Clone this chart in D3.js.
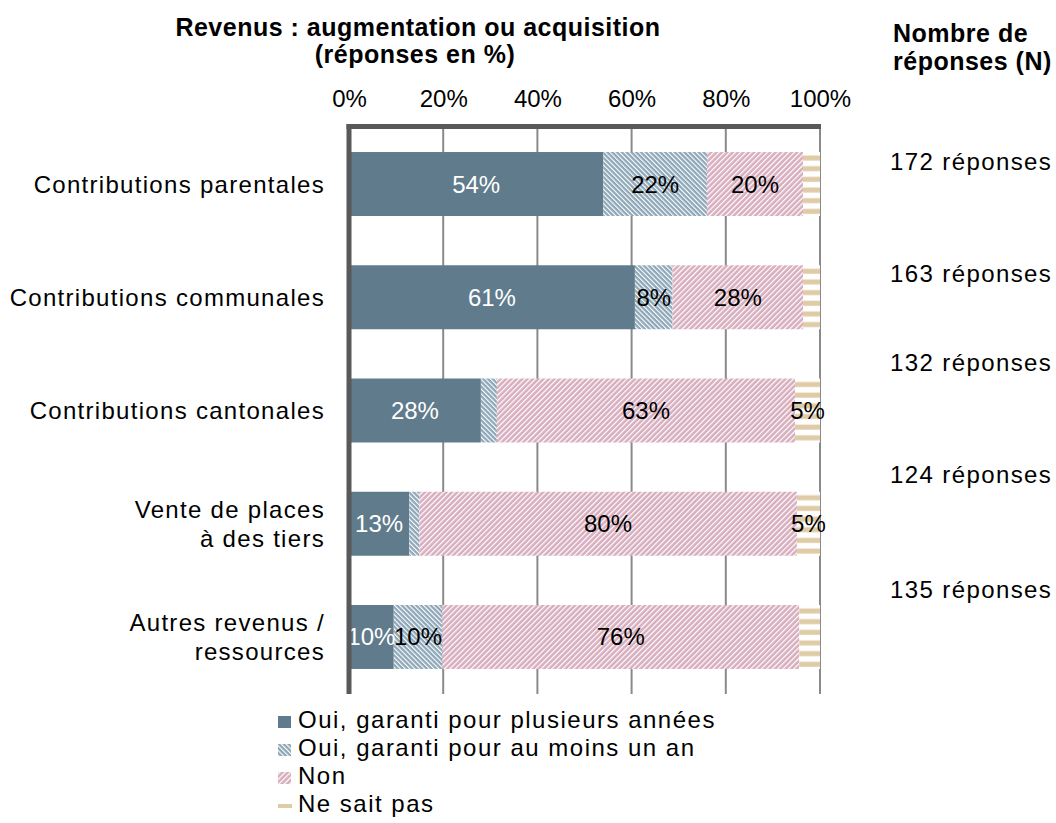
<!DOCTYPE html>
<html>
<head>
<meta charset="utf-8">
<script src="https://cdn.jsdelivr.net/npm/d3@7"></script>
<style>
  body { margin: 0; background: #fff; }
  svg { font-family: "Liberation Sans", Arial, sans-serif; }
</style>
</head>
<body>
<div id="chart"></div>
<script>
//Data
const categories = ["Contributions parentales", "Contributions communales", "Contributions cantonales", "Vente de places à des tiers", "Autres revenus / ressources"];
const categoryLines = [["Contributions parentales"], ["Contributions communales"], ["Contributions cantonales"], ["Vente de places", "à des tiers"], ["Autres revenus /", "ressources"]];
const seriesNames = ["Oui, garanti pour plusieurs années", "Oui, garanti pour au moins un an", "Non", "Ne sait pas"];
const ouiPlusieurs = [54.0, 60.7, 28.0, 12.8, 9.5];
const ouiUnAn = [22.0, 8.0, 3.4, 2.1, 10.3];
const non = [20.4, 27.7, 63.3, 80.2, 75.8];
const neSaitPas = [3.6, 3.6, 5.3, 4.9, 4.4];
const nReponses = [172, 163, 132, 124, 135];
const xTicks = [0, 20, 40, 60, 80, 100];

//Layout
const width = 1056, height = 823;
const nLabelShift = [-14, -15, -40, -41, -39]; // the N labels sit above the bars, not centred
const fontSize = 24;

const svg = d3.select("#chart").append("svg")
    .attr("width", width)
    .attr("height", height);

const defs = svg.append("defs");

//hatch pattern helper
function hatch(id, bg, size, line, angle) {
    const p = defs.append("pattern")
        .attr("id", id)
        .attr("patternUnits", "userSpaceOnUse")
        .attr("width", size)
        .attr("height", size)
        .attr("patternTransform", `rotate(${angle})`);
    p.append("rect").attr("width", size).attr("height", size).attr("fill", bg);
    p.append("rect").attr("width", line).attr("height", size).attr("fill", "#fff");
}
hatch("hatchBlue", "#8ea7b8", 3.4, 1.1, -45);
hatch("hatchPink", "#d8aebf", 3.8, 1.2, 45);

//horizontal stripes, tiles start at the top of every bar
const stripes = defs.append("pattern")
    .attr("id", "stripesTan")
    .attr("patternUnits", "objectBoundingBox")
    .attr("width", 1)
    .attr("height", 1 / 6);
stripes.append("rect").attr("width", 200).attr("height", 12).attr("fill", "#fff");
stripes.append("rect").attr("y", 3.5).attr("width", 200).attr("height", 5).attr("fill", "#dfcba5");

const fills = ["#5f7b8c", "url(#hatchBlue)", "url(#hatchPink)", "url(#stripesTan)"];
const labelColours = ["#fff", "#000", "#000", "#000"];

const x = d3.scaleLinear().domain([0, 100]).range([349, 820]);
const y = d3.scaleBand().domain(categories).range([127.4, 693.6])
    .paddingInner(0.435).paddingOuter(0.2175);

//stack the series
const rows = categories.map((c, i) => ({
    cat: c,
    0: ouiPlusieurs[i], 1: ouiUnAn[i], 2: non[i], 3: neSaitPas[i]
}));
const stacked = d3.stack().keys([0, 1, 2, 3])(rows);

//gridlines
svg.append("g").selectAll("line")
    .data(xTicks.slice(1))
    .enter().append("line")
    .attr("x1", d => x(d)).attr("x2", d => x(d))
    .attr("y1", 127).attr("y2", 694)
    .attr("stroke", "#8a8a8a")
    .attr("stroke-width", 2);

//bars
const layer = svg.append("g").selectAll("g")
    .data(stacked)
    .enter().append("g")
    .attr("fill", d => fills[d.key]);

layer.selectAll("rect")
    .data(d => d)
    .enter().append("rect")
    .attr("x", d => x(d[0]))
    .attr("y", d => y(d.data.cat))
    .attr("width", d => x(d[1]) - x(d[0]))
    .attr("height", y.bandwidth());

//value labels, only shown from 5% up
stacked.forEach(s => {
    svg.append("g").selectAll("text")
        .data(s.filter(d => Math.round(d[1] - d[0]) >= 5))
        .enter().append("text")
        .attr("x", d => (x(d[0]) + x(d[1])) / 2)
        .attr("y", d => y(d.data.cat) + y.bandwidth() / 2 + 8.5)
        .attr("text-anchor", "middle")
        .attr("font-size", fontSize)
        .attr("fill", labelColours[s.key])
        .text(d => Math.round(d[1] - d[0]) + "%");
});

//axes lines
svg.append("line")
    .attr("x1", 346.5).attr("x2", 821)
    .attr("y1", 126.5).attr("y2", 126.5)
    .attr("stroke", "#595959").attr("stroke-width", 5);
svg.append("line")
    .attr("x1", 349).attr("x2", 349)
    .attr("y1", 124).attr("y2", 694)
    .attr("stroke", "#595959").attr("stroke-width", 5);

//tick labels
const xAxis = d3.axisTop(x).tickValues(xTicks).tickFormat(d => d + "%").tickSize(0).tickPadding(0);
const axisG = svg.append("g")
    .attr("transform", "translate(0,107)")
    .call(xAxis);
axisG.select(".domain").remove();
axisG.selectAll("text")
    .attr("font-size", fontSize)
    .attr("font-family", "Liberation Sans, Arial, sans-serif")
    .attr("fill", "#000")
    .attr("dy", 0);

//category labels
categoryLines.forEach((lines, i) => {
    const cy = y(categories[i]) + y.bandwidth() / 2;
    const t = svg.append("text")
        .attr("x", 325)
        .attr("text-anchor", "end")
        .attr("font-size", fontSize)
        .attr("letter-spacing", 1.3);
    lines.forEach((ln, j) => {
        t.append("tspan")
            .attr("x", 325)
            .attr("y", cy + 8.5 + (j - (lines.length - 1) / 2) * 29)
            .text(ln);
    });
});

//N labels
nReponses.forEach((n, i) => {
    svg.append("text")
        .attr("x", 890)
        .attr("y", y(categories[i]) + y.bandwidth() / 2 + nLabelShift[i])
        .attr("font-size", fontSize)
        .attr("letter-spacing", 1.4)
        .text(n + " réponses");
});

//titles
const title = svg.append("text")
    .attr("text-anchor", "middle")
    .attr("font-weight", "bold")
    .attr("font-size", 25)
    .attr("letter-spacing", 0.5);
title.append("tspan").attr("x", 418).attr("y", 36).text("Revenus : augmentation ou acquisition");
title.append("tspan").attr("x", 415).attr("y", 63).text("(réponses en %)");

const nTitle = svg.append("text")
    .attr("font-weight", "bold")
    .attr("font-size", 25)
    .attr("letter-spacing", 0.5);
nTitle.append("tspan").attr("x", 893).attr("y", 42).text("Nombre de");
nTitle.append("tspan").attr("x", 893).attr("y", 70).text("réponses (N)");

//legend
const legend = svg.append("g").selectAll("g")
    .data(seriesNames)
    .enter().append("g")
    .attr("transform", (d, i) => `translate(278,${728 + i * 28})`);

legend.filter((d, i) => i < 3).append("rect")
    .attr("y", -12)
    .attr("width", 13)
    .attr("height", 12)
    .attr("fill", (d, i) => fills[i]);
legend.filter((d, i) => i == 3).append("rect")
    .attr("y", -8)
    .attr("width", 14)
    .attr("height", 4)
    .attr("fill", "#dfcba5");

legend.append("text")
    .attr("x", 20)
    .attr("font-size", fontSize)
    .attr("letter-spacing", 1.5)
    .text(d => d);
</script>
</body>
</html>
